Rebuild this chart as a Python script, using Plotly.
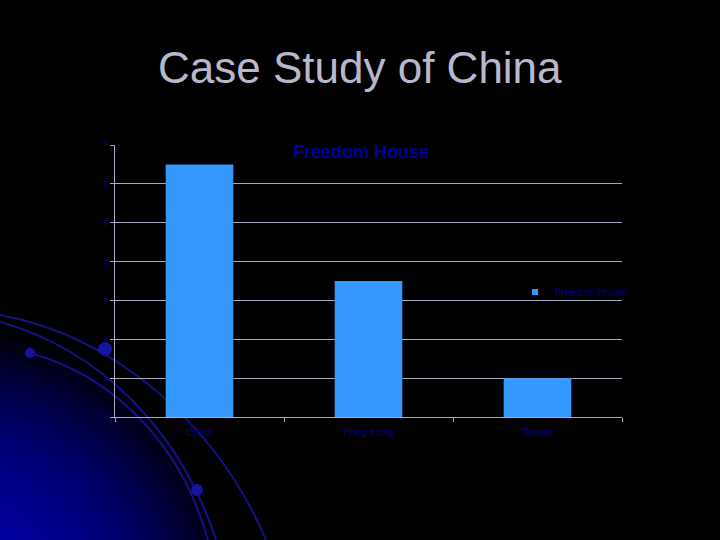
import plotly.graph_objects as go

categories = ["China", "Hong Kong", "Taiwan"]
values = [6.5, 3.5, 1]
series_name = "Freedom House"
y_ticks = [0, 1, 2, 3, 4, 5, 6, 7]

W, H = 720, 540
L, R, T, B = 115, 98, 145, 123
PW, PH = W - L - R, H - T - B


def px(x):
    return (x - L) / PW


def py(y):
    return (H - B - y) / PH


fig = go.Figure()
fig.add_trace(go.Bar(
    x=categories, y=values, name=series_name, showlegend=False,
    marker=dict(color="#3399FF", line=dict(width=0)),
    width=0.4,
))
# legend entry with a small square swatch
fig.add_trace(go.Scatter(
    x=[None], y=[None], mode="markers", name=series_name,
    marker=dict(symbol="square", size=6, color="#3399FF"),
))

shapes = []
# radial blue glow at bottom-left
n = 30
cx, cy, rmax = -60, 620, 290
for i in range(n):
    r = rmax * (1 - i / n)
    shapes.append(dict(
        type="circle", xref="paper", yref="paper", layer="below",
        x0=px(cx - r), x1=px(cx + r), y0=py(cy + r), y1=py(cy - r),
        fillcolor="rgba(0,0,210,0.07)", line=dict(width=0),
    ))


def cpath(pts):
    s = "M {} {}".format(px(pts[0][0]), py(pts[0][1]))
    s += " C " + " ".join("{} {}".format(px(x), py(y)) for x, y in pts[1:])
    return s


arcs = [
    [(0, 315), (110, 335), (215, 420), (266, 540)],
    [(0, 322), (100, 350), (180, 430), (216, 540)],
    [(30, 353), (110, 375), (180, 440), (208, 540)],
]
for a in arcs:
    shapes.append(dict(type="path", xref="paper", yref="paper", layer="below",
                       path=cpath(a), line=dict(color="#121285", width=2)))

dots = [(30, 353, 5), (105, 349, 7), (197, 490, 6)]
for x, y, r in dots:
    shapes.append(dict(type="circle", xref="paper", yref="paper", layer="below",
                       x0=px(x - r), x1=px(x + r), y0=py(y + r), y1=py(y - r),
                       fillcolor="#1515a0", line=dict(width=0)))

fig.update_layout(
    width=W, height=H,
    margin=dict(l=L, r=R, t=T, b=B),
    paper_bgcolor="black",
    plot_bgcolor="rgba(0,0,0,0)",
    font=dict(family="Liberation Sans, Arial, sans-serif", color="#000080"),
    showlegend=True,
    legend=dict(x=px(515), y=py(292), xanchor="left", yanchor="middle",
                font=dict(size=10, color="#000080"), bgcolor="rgba(0,0,0,0)",
                itemwidth=30, tracegroupgap=0),
    shapes=shapes,
    annotations=[
        dict(text="Case Study of China", xref="paper", yref="paper",
             x=px(360), y=py(68), xanchor="center", yanchor="middle", showarrow=False,
             font=dict(size=44, color="#B8B8CC", family="Liberation Sans, Arial, sans-serif")),
        dict(text="<b>Freedom House</b>", xref="paper", yref="paper",
             x=px(361), y=py(152), xanchor="center", yanchor="middle", showarrow=False,
             font=dict(size=18, color="#000099", family="Liberation Sans, Arial, sans-serif")),
    ],
    bargap=0.6,
)
fig.update_yaxes(
    range=[0, 7], tickvals=y_ticks, showgrid=True, gridcolor="#A8A8C0", gridwidth=1,
    showline=True, linecolor="#A8A8C0", linewidth=1, ticks="outside", ticklen=4,
    tickcolor="#A8A8C0", tickfont=dict(size=9, color="#000080"), zeroline=False,
)
fig.update_xaxes(
    showline=True, linecolor="#A8A8C0", linewidth=1, ticks="outside", ticklen=4,
    tickcolor="#A8A8C0", tickson="boundaries", tickfont=dict(size=10, color="#000080"),
    ticklabelstandoff=6,
)

fig.write_html("out.html", config={"displayModeBar": False},
               post_script="document.body.style.margin='0';document.body.style.background='black';")
